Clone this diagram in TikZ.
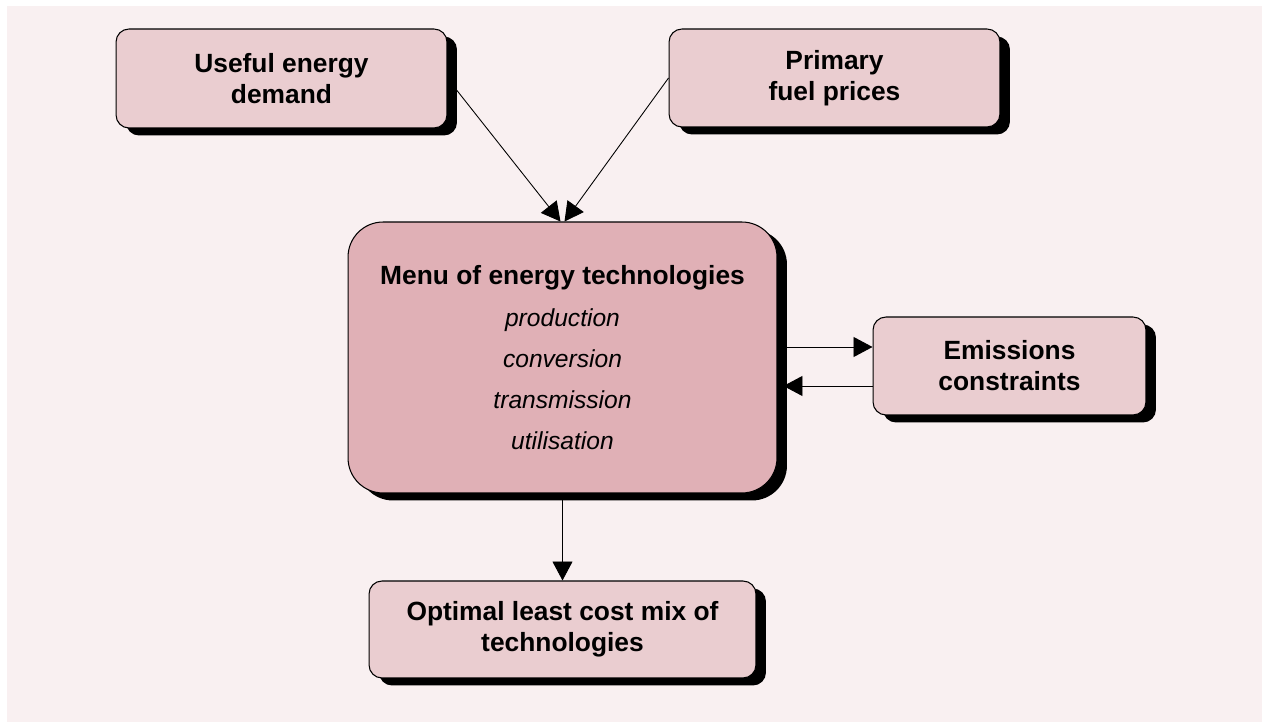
\documentclass[tikz,border=0pt]{standalone}
\usepackage{fontspec}
\setmainfont{Liberation Sans}
\usetikzlibrary{arrows.meta,shadows,backgrounds}

\definecolor{panelpink}{RGB}{249,240,241}
\definecolor{boxpink}{RGB}{234,205,208}
\definecolor{menupink}{RGB}{224,176,182}

\newcommand{\techitem}[1]{\fontsize{14}{23.3}\selectfont\textit{#1}}

\begin{document}
\begin{tikzpicture}[x=0.02cm,y=-0.02cm,
    box/.style={draw=black,line width=0.6pt,fill=boxpink,rounded corners=0.26cm,
      drop shadow={shadow xshift=0.2cm,shadow yshift=-0.15cm,fill=black,opacity=1},
      align=center,inner sep=0pt,font=\fontsize{15}{17.6}\selectfont\bfseries},
    flow/.style={line width=0.5pt,-{Triangle[length=10.8pt,width=11.4pt]}}]
    \useasboundingbox (0,0) rectangle (1262,722);

    \node[box,minimum width=6.62cm,minimum height=1.98cm] (demand) at (281.5,78.5) {Useful energy\\demand};
    \node[box,minimum width=6.62cm,minimum height=1.96cm] (prices) at (834.5,78) {Primary\\fuel prices};

    \node[box,fill=menupink,rounded corners=0.7cm,minimum width=8.58cm,minimum height=5.42cm,
      font=\fontsize{15}{23.3}\selectfont] (menu) at (562.5,357.5)
      {\textbf{Menu of energy technologies}\\[1pt]\techitem{production}\\\techitem{conversion}\\\techitem{transmission}\\\techitem{utilisation}};

    \node[box,minimum width=5.46cm,minimum height=1.96cm] (emis) at (1009.5,366) {Emissions\\constraints};
    \node[box,minimum width=7.74cm,minimum height=1.94cm] (mix) at (562.5,629.5) {Optimal least cost mix of\\technologies};

    \coordinate (menuinl) at ([xshift=-0.04cm]menu.north);
    \coordinate (menuinr) at ([xshift=0.04cm]menu.north);
    \coordinate (menuedge) at ([xshift=0.12cm]menu.east);
    \coordinate (emisin) at ([yshift=0.38cm]emis.west);
    \coordinate (emisout) at ([yshift=-0.4cm]emis.west);
    \coordinate (menuout) at (menu.east |- emisin);
    \coordinate (menuin) at (menuedge |- emisout);

    \begin{scope}[on background layer]
      \fill[panelpink] (7,6) rectangle (1262,722);
      \foreach \from/\to in {demand.east/menuinl,prices.west/menuinr,menuout/emisin,emisout/menuin,menu.south/mix.north}
          \draw[flow] (\from)--(\to);
    \end{scope}
\end{tikzpicture}
\end{document}
